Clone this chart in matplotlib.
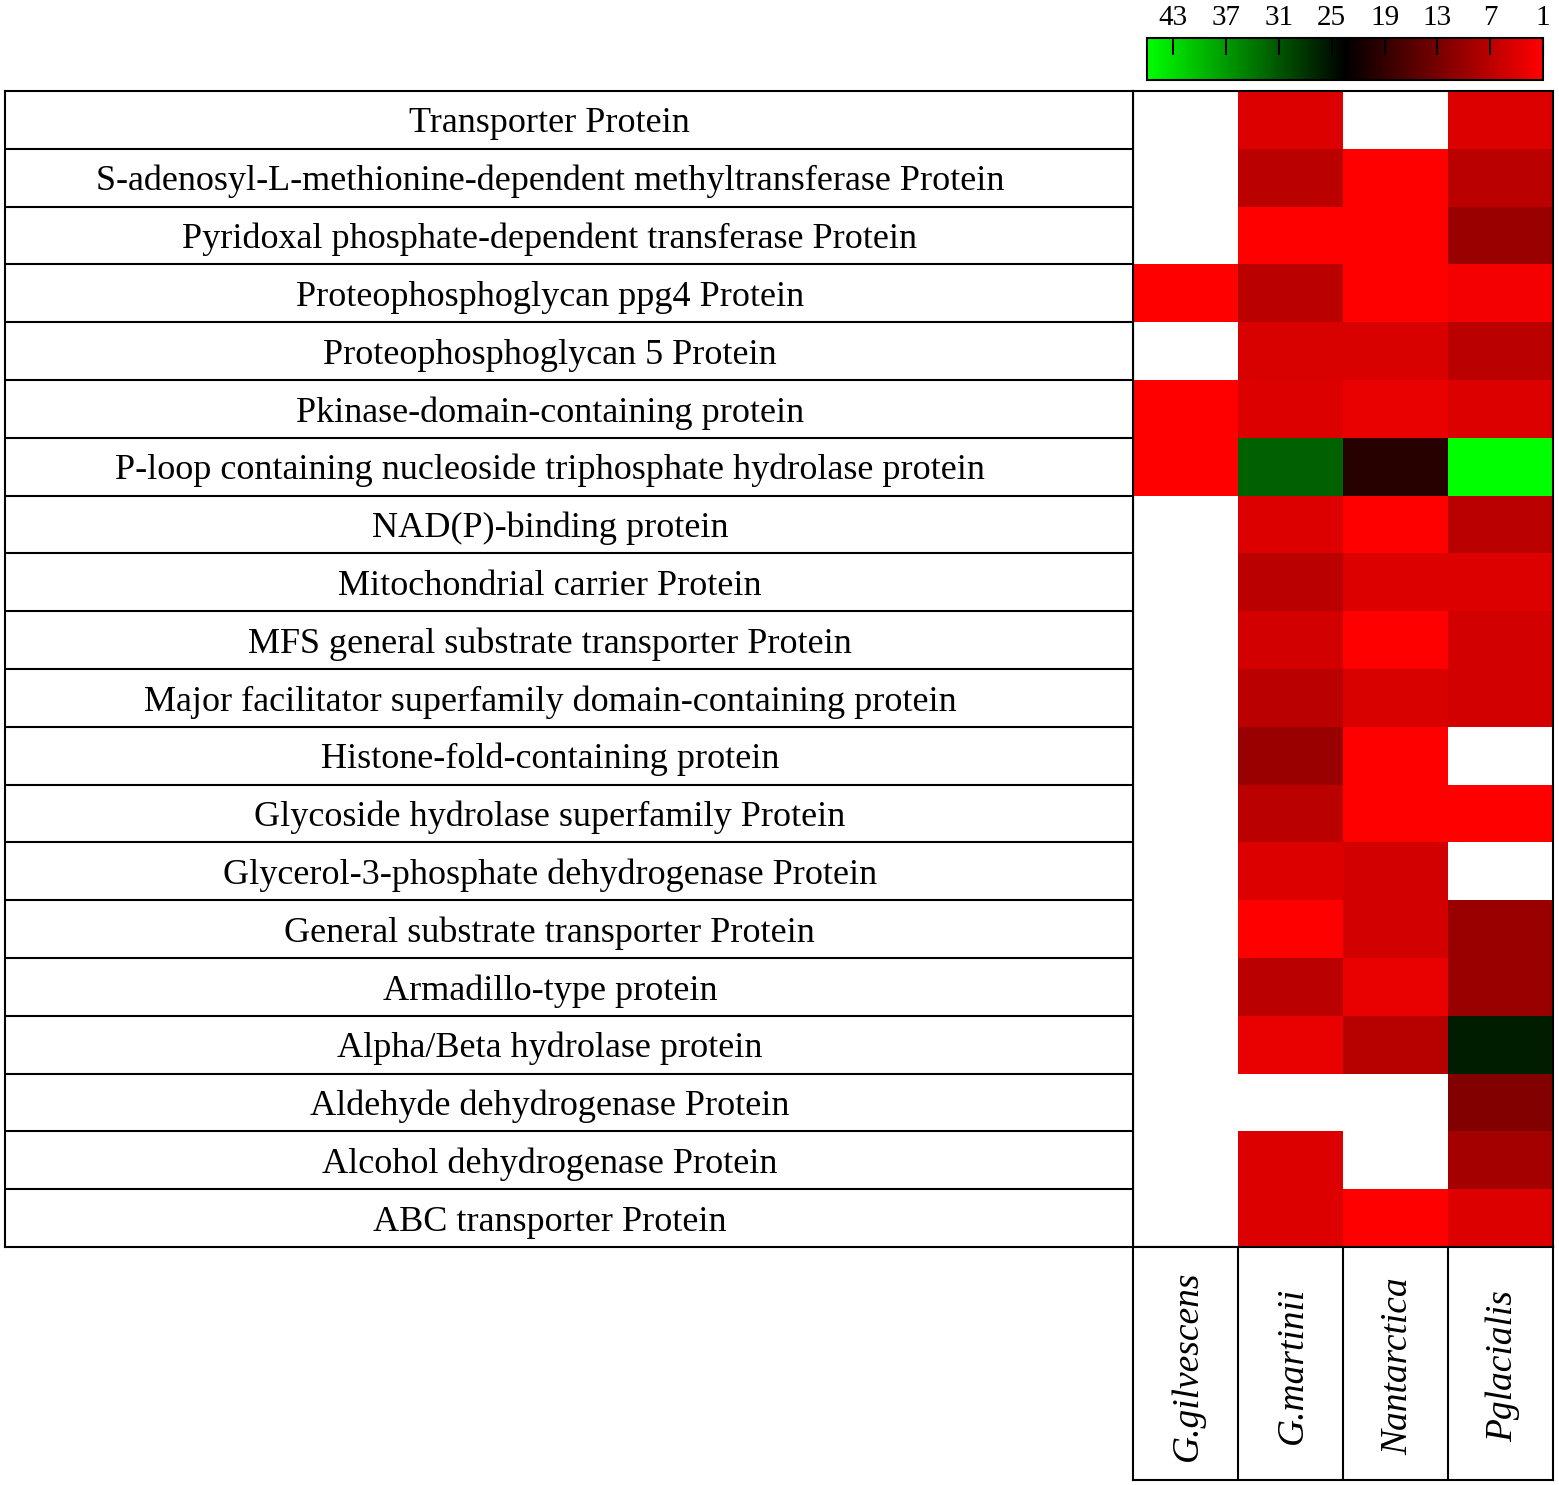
import numpy as np
import matplotlib.pyplot as plt
from matplotlib.colors import LinearSegmentedColormap

plt.rcParams['font.family'] = ['Liberation Serif', 'DejaVu Serif']

proteins = [
    'Transporter Protein',
    'S-adenosyl-L-methionine-dependent methyltransferase Protein',
    'Pyridoxal phosphate-dependent transferase Protein',
    'Proteophosphoglycan ppg4 Protein',
    'Proteophosphoglycan 5 Protein',
    'Pkinase-domain-containing protein',
    'P-loop containing nucleoside triphosphate hydrolase protein',
    'NAD(P)-binding protein',
    'Mitochondrial carrier Protein',
    'MFS general substrate transporter Protein',
    'Major facilitator superfamily domain-containing protein',
    'Histone-fold-containing protein',
    'Glycoside hydrolase superfamily Protein',
    'Glycerol-3-phosphate dehydrogenase Protein',
    'General substrate transporter Protein',
    'Armadillo-type protein',
    'Alpha/Beta hydrolase protein',
    'Aldehyde dehydrogenase Protein',
    'Alcohol dehydrogenase Protein',
    'ABC transporter Protein',
]
species = ['G.gilvescens', 'G.martinii', 'Nantarctica', 'Pglacialis']

# rank values per species (nan = not present)
nan = np.nan
g_gilvescens = [nan, nan, nan, 1, nan, 1, 1, nan, nan, nan,
                nan, nan, nan, nan, nan, nan, nan, nan, nan, nan]
g_martinii = [4, 7, 1, 7, 4.5, 4, 32, 4, 7, 5,
              7, 10, 7, 4, 1, 7, 3, nan, 4, 4]
n_antarctica = [nan, 1, 1, 1, 4.5, 3, 20, 1, 4, 1,
                4.5, 1, 1, 5, 5, 3, 7.5, nan, nan, 1]
p_glacialis = [4, 7, 10, 2, 7, 4, 46, 7, 4, 5,
               5, nan, 1, nan, 10, 10, 26, 12, 9, 4]

cbar_ticks = [43, 37, 31, 25, 19, 13, 7, 1]

W, H = 1559, 1485


def fig_rect(x0, y0, x1, y1):
    return [x0 / W, 1 - y1 / H, (x1 - x0) / W, (y1 - y0) / H]


data = np.ma.masked_invalid(np.array([g_gilvescens, g_martinii,
                                      n_antarctica, p_glacialis]).T)
cmap = LinearSegmentedColormap.from_list('rg', ['#ff0000', '#000000', '#00ff00'])
cmap.set_bad('white')

fig = plt.figure(figsize=(W / 100, H / 100), dpi=100)
lw = 1.5

# heatmap
ax = fig.add_axes(fig_rect(1133, 91, 1553, 1247))
mesh = ax.pcolormesh(data, cmap=cmap, vmin=1, vmax=46)
ax.set_xlim(0, 4)
ax.set_ylim(len(proteins), 0)
ax.set_xticks([])
ax.set_yticks([])
for s in ax.spines.values():
    s.set_linewidth(lw)

# label column
axl = fig.add_axes(fig_rect(5, 91, 1133, 1247))
axl.set_xlim(0, 1)
axl.set_ylim(len(proteins), 0)
axl.set_xticks([])
axl.set_yticks([])
for s in axl.spines.values():
    s.set_linewidth(lw)
for i, name in enumerate(proteins):
    axl.text(0.483, i + 0.5, name, ha='center', va='center_baseline',
             fontsize=26)
    if i > 0:
        axl.axhline(i, color='black', lw=lw)

# species labels
axs = fig.add_axes(fig_rect(1133, 1247, 1553, 1480))
axs.set_xlim(0, 4)
axs.set_ylim(0, 1)
axs.set_xticks([])
axs.set_yticks([])
for s in axs.spines.values():
    s.set_linewidth(lw)
for j, sp in enumerate(species):
    axs.text(j + 0.52, 0.49, sp, rotation=90, ha='center', va='center',
             fontsize=27, style='italic')
    if j > 0:
        axs.axvline(j, color='black', lw=lw)

# colorbar
cax = fig.add_axes(fig_rect(1147, 38, 1543, 80))
cb = fig.colorbar(mesh, cax=cax, orientation='horizontal')
cax.set_xlim(46, 1)
cb.set_ticks(cbar_ticks)
cax.xaxis.set_ticks_position('top')
cax.tick_params(axis='x', direction='in', length=12, width=1.5,
                labelsize=21, pad=5)
cb.outline.set_linewidth(lw)

fig.savefig('out.png', dpi=100)
